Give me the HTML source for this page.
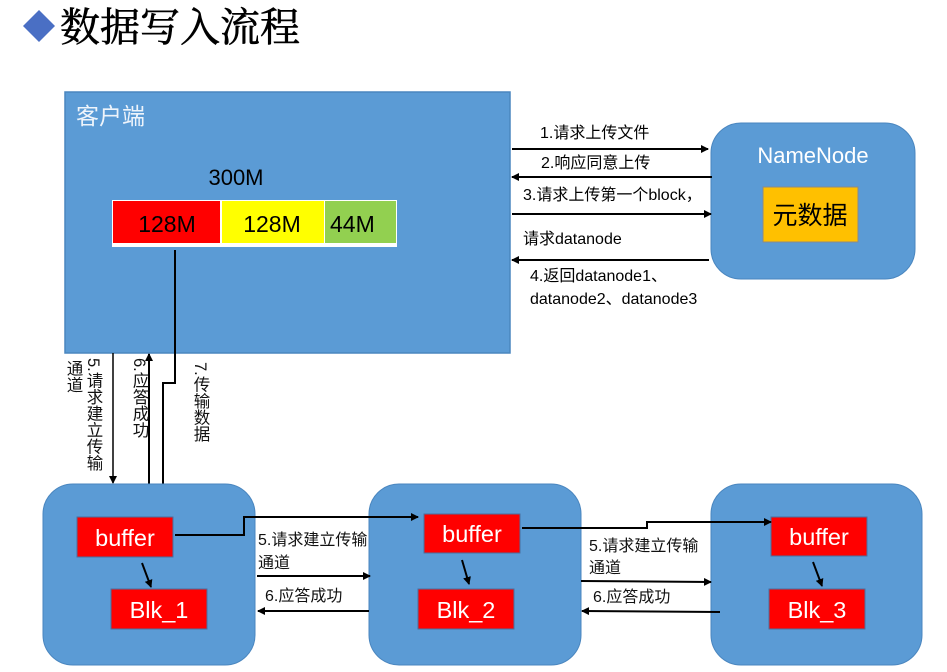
<!DOCTYPE html>
<html><head><meta charset="utf-8"><style>
body{margin:0;background:#fff;}
svg{display:block;}
text{font-family:"Liberation Sans","Noto Sans CJK SC",sans-serif;}
</style></head><body>
<svg width="947" height="672" viewBox="0 0 947 672" xmlns="http://www.w3.org/2000/svg">
<defs>
<marker id="a" markerWidth="8" markerHeight="8" refX="7" refY="4" orient="auto" markerUnits="userSpaceOnUse"><path d="M0,0 L8,4 L0,8 z" fill="#000"/></marker>
</defs>
<polygon points="39,10 55,26 39,42 23,26" fill="#4a6fc4"/>
<text x="60" y="41" font-size="40" style="font-family:'Noto Serif CJK SC',serif" stroke="#000" stroke-width="0.6">数据写入流程</text>

<rect x="65" y="92" width="445" height="261" fill="#5b9bd5" stroke="#4a86bf" stroke-width="1.5"/>
<text x="76" y="124" font-size="23" fill="#eef4fb">客户端</text>
<text x="236" y="185" font-size="22" text-anchor="middle">300M</text>
<rect x="112" y="200" width="285" height="47" fill="#fff"/>
<rect x="113" y="201" width="107" height="42" fill="#ff0000"/>
<rect x="222" y="201" width="102" height="42" fill="#ffff00"/>
<rect x="325" y="201" width="71" height="42" fill="#92d050"/>
<text x="167" y="232" font-size="23" text-anchor="middle">128M</text>
<text x="272" y="232" font-size="23" text-anchor="middle">128M</text>
<text x="330" y="232" font-size="23">44M</text>

<rect x="711" y="123" width="204" height="156" rx="30" fill="#5b9bd5" stroke="#4a86bf"/>
<text x="813" y="163" font-size="22" fill="#fff" text-anchor="middle">NameNode</text>
<rect x="763" y="187" width="95" height="55" fill="#ffc000" stroke="#8a8a8a"/>
<text x="810" y="224" font-size="25" text-anchor="middle">元数据</text>

<g font-size="16">
<line x1="512" y1="149" x2="708" y2="149" stroke="#000" stroke-width="2" marker-end="url(#a)"/>
<text x="540" y="138">1.请求上传文件</text>
<line x1="712" y1="177" x2="512" y2="177" stroke="#000" stroke-width="2" marker-end="url(#a)"/>
<text x="541" y="168">2.响应同意上传</text>
<text x="523" y="200">3.请求上传第一个block，</text>
<line x1="512" y1="214" x2="711" y2="214" stroke="#000" stroke-width="2" marker-end="url(#a)"/>
<text x="523" y="244">请求datanode</text>
<line x1="709" y1="260" x2="512" y2="260" stroke="#000" stroke-width="2" marker-end="url(#a)"/>
<text x="530" y="281">4.返回datanode1、</text>
<text x="530" y="304">datanode2、datanode3</text>
</g>

<line x1="113" y1="353" x2="113" y2="483" stroke="#000" stroke-width="1.5" marker-end="url(#a)"/>
<line x1="149" y1="484" x2="149" y2="354" stroke="#000" stroke-width="2" marker-end="url(#a)"/>
<polyline points="175,250 175,383 163,383 163,514" fill="none" stroke="#000" stroke-width="2" marker-end="url(#a)"/>
<g font-size="16.5" fill="#111">
<text x="93" y="358" style="writing-mode:vertical-rl">5.请求建立传输</text>
<text x="73" y="360" style="writing-mode:vertical-rl">通道</text>
<text x="139" y="358" style="writing-mode:vertical-rl">6.应答成功</text>
<text x="200" y="362" style="writing-mode:vertical-rl">7.传输数据</text>
</g>

<rect x="43" y="484" width="212" height="181" rx="30" fill="#5b9bd5" stroke="#4a86bf"/>
<rect x="369" y="484" width="212" height="181" rx="30" fill="#5b9bd5" stroke="#4a86bf"/>
<rect x="711" y="484" width="211" height="181" rx="30" fill="#5b9bd5" stroke="#4a86bf"/>
<g fill="#ff0000" stroke="#4a6fa0">
<rect x="77" y="517" width="96" height="40"/>
<rect x="111" y="589" width="96" height="40"/>
<rect x="424" y="514" width="96" height="39"/>
<rect x="418" y="589" width="96" height="40"/>
<rect x="771" y="517" width="96" height="39"/>
<rect x="769" y="589" width="96" height="40"/>
</g>
<g font-size="23.5" fill="#fff" text-anchor="middle">
<text x="125" y="546">buffer</text>
<text x="159" y="618">Blk_1</text>
<text x="472" y="542">buffer</text>
<text x="466" y="618">Blk_2</text>
<text x="819" y="545">buffer</text>
<text x="817" y="618">Blk_3</text>
</g>
<g stroke="#000" stroke-width="2" fill="none">
<line x1="142" y1="563" x2="151" y2="587" marker-end="url(#a)"/>
<line x1="462" y1="560" x2="469" y2="584" marker-end="url(#a)"/>
<line x1="813" y1="562" x2="822" y2="586" marker-end="url(#a)"/>
<polyline points="175,535 244,535 244,517 418,517" marker-end="url(#a)"/>
<polyline points="522,528 647,528 647,522 771,522" marker-end="url(#a)"/>
<line x1="257" y1="576" x2="370" y2="576" marker-end="url(#a)"/>
<line x1="369" y1="611" x2="258" y2="611" marker-end="url(#a)"/>
<line x1="581" y1="581" x2="711" y2="582" marker-end="url(#a)"/>
<line x1="720" y1="612" x2="582" y2="611" marker-end="url(#a)"/>
</g>
<g font-size="16" fill="#111">
<text x="258" y="545">5.请求建立传输</text>
<text x="258" y="568">通道</text>
<text x="265" y="601">6.应答成功</text>
<text x="589" y="551">5.请求建立传输</text>
<text x="589" y="573">通道</text>
<text x="593" y="602">6.应答成功</text>
</g>
</svg>
</body></html>
